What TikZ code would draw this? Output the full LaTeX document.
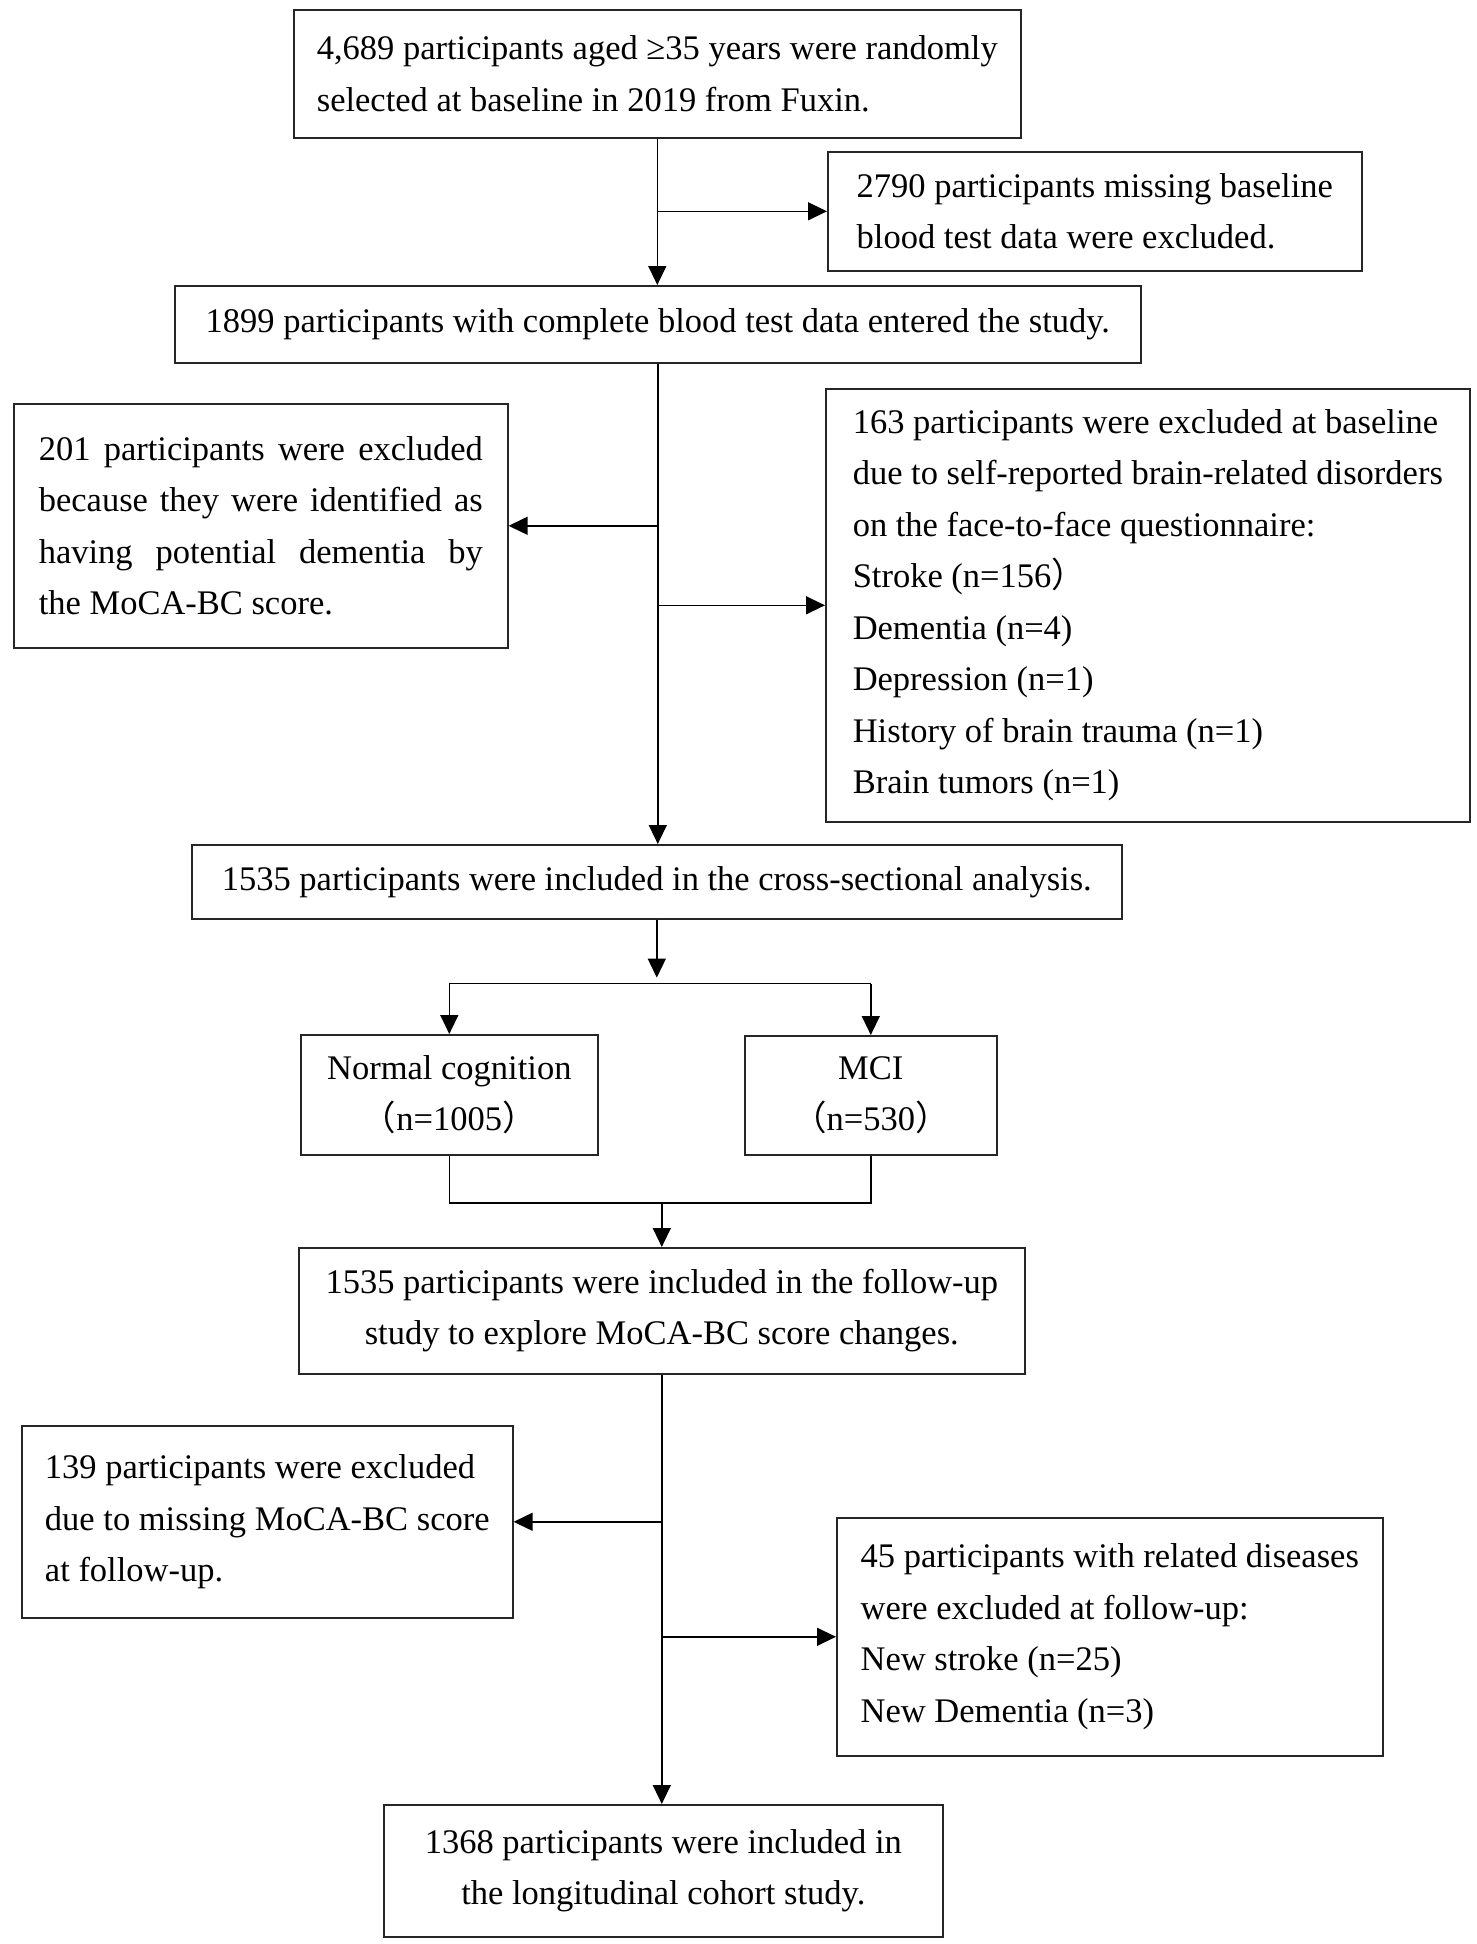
\documentclass[tikz,border=0pt]{standalone}
\usepackage{fontspec}
\setmainfont{Liberation Serif}
\newfontfamily\cjk{Noto Sans CJK SC}
\usetikzlibrary{arrows.meta, positioning, calc}
\tikzset{%
  box/.style={draw=black!85, line width=0.8pt, anchor=north west, inner sep=0pt,
    align=left, font=\fontsize{17.25pt}{25.75pt}\selectfont}, % every box of the chart
  flow/.style={draw, -{Triangle[length=9.5pt,width=9pt]}, line width=0.7pt}
}
\newcommand{\fwlp}{{\cjk （}}
\newcommand{\fwrp}{{\cjk ）}}

\begin{document}
\begin{tikzpicture}[x=0.5pt, y=-0.5pt]
\useasboundingbox (0,0) rectangle (1477,1944);

% main column
\node[box, minimum width=363.5pt, minimum height=64pt] (start) at (293,9)
  {4,689 participants aged ≥35 years were randomly\\selected at baseline in 2019 from Fuxin.};
\node[box, minimum width=483pt, minimum height=38.5pt, align=center] (entered) at (174,285)
  {1899 participants with complete blood test data entered the study.};
\node[box, minimum width=465pt, minimum height=37pt, align=center] (cross) at (191,844)
  {1535 participants were included in the cross-sectional analysis.};
\node[box, minimum width=148.5pt, minimum height=60pt, align=center] (normal) at (300,1034)
  {Normal cognition\\\fwlp n=1005\fwrp};
\node[box, minimum width=126pt, minimum height=59.5pt, align=center] (mci) at (744,1035)
  {MCI\\\fwlp n=530\fwrp};
\node[box, minimum width=363pt, minimum height=63pt, align=center] (followup) at (298,1247)
  {1535 participants were included in the follow-up\\study to explore MoCA-BC score changes.};
\node[box, minimum width=279.5pt, minimum height=66pt, align=center] (cohort) at (383,1804)
  {1368 participants were included in\\the longitudinal cohort study.};

% exclusions
\node[box, minimum width=267pt, minimum height=59.5pt] (missblood) at (827,151)
  {2790 participants missing baseline\\blood test data were excluded.};
\node[box, inner xsep=12.5pt, text width=222pt, align=justify, minimum height=122pt] (potdem) at (13,403)
  {201 participants were excluded\linebreak because they were identified as\linebreak
   having potential dementia by\linebreak the MoCA-BC score.};
\node[box, minimum width=322pt, minimum height=216.5pt] (selfrep) at (825,388)
  {163 participants were excluded at baseline\\due to self-reported brain-related disorders\\
   on the face-to-face questionnaire:\\Stroke (n=156\fwrp\\Dementia (n=4)\\Depression (n=1)\\
   History of brain trauma (n=1)\\Brain tumors (n=1)};
\node[box, minimum width=245.5pt, minimum height=96pt] (missmoca) at (21,1425)
  {139 participants were excluded\\due to missing MoCA-BC score\\at follow-up.};
\node[box, minimum width=273pt, minimum height=119pt] (newdis) at (836,1517)
  {45 participants with related diseases\\were excluded at follow-up:\\New stroke (n=25)\\New Dementia (n=3)};

% arrows down the middle
\coordinate (split) at ($(cross.south)+(0,64)$);
\coordinate (merge) at (followup.north |- {(0,1203)});
\draw[flow] (start.south) -- (start.south |- entered.north);
\draw[flow] (start.south |- missblood.west) -- (missblood.west);
\draw[flow] (entered.south) -- (entered.south |- cross.north);
\draw[flow] (entered.south |- potdem.east) -- (potdem.east);
\draw[flow] (entered.south |- selfrep.west) -- (selfrep.west);
\draw[flow, shorten >=3pt] (cross.south) -- (split);
\draw[line width=0.7pt] (normal.north |- split) -- (mci.north |- split);
\draw[flow] (normal.north |- split) -- (normal.north);
\draw[flow] (mci.north |- split) -- (mci.north);
\draw[line width=0.7pt] (normal.south) -- (normal.south |- merge) -- (mci.south |- merge) -- (mci.south);
\draw[flow] (merge) -- (followup.north);
\draw[flow] (followup.south) -- (followup.south |- cohort.north);
\draw[flow] (followup.south |- missmoca.east) -- (missmoca.east);
\draw[flow] (followup.south |- newdis.west) -- (newdis.west);

\end{tikzpicture}
\end{document}
